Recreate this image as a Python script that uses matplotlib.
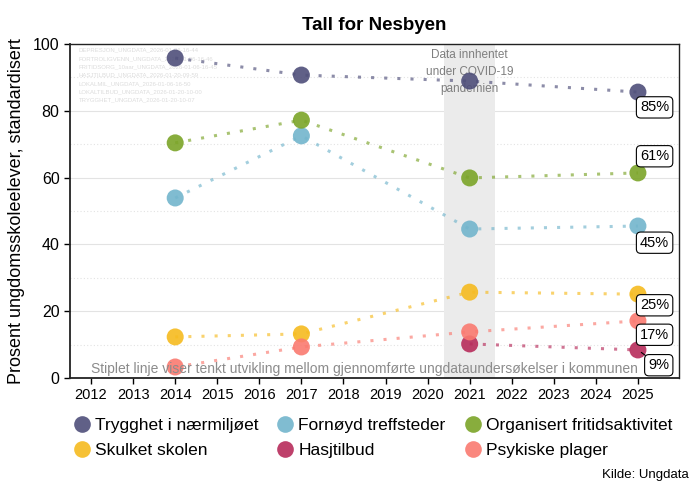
import matplotlib
matplotlib.use("Agg")
import matplotlib.pyplot as plt
from matplotlib.lines import Line2D

plt.rcParams['font.family'] = ['Liberation Sans', 'DejaVu Sans']

# ---- data ----
series_names = ["Trygghet i nærmiljøet", "Fornøyd treffsteder", "Organisert fritidsaktivitet",
                "Skulket skolen", "Hasjtilbud", "Psykiske plager"]
colors = ["#4f4f7a", "#72b5cc", "#7ba428", "#f6bb1f", "#b72c5b", "#fa7a70"]

years_trygghet = [2014, 2017, 2021, 2025]
vals_trygghet = [95.8, 90.7, 88.9, 85.6]
years_fornoyd = [2014, 2017, 2021, 2025]
vals_fornoyd = [53.9, 72.5, 44.6, 45.5]
years_organisert = [2014, 2017, 2021, 2025]
vals_organisert = [70.4, 77.2, 59.9, 61.4]
years_skulket = [2014, 2017, 2021, 2025]
vals_skulket = [12.3, 13.2, 25.7, 25.1]
years_hasj = [2021, 2025]
vals_hasj = [10.2, 8.4]
years_psyk = [2014, 2017, 2021, 2025]
vals_psyk = [3.3, 9.3, 13.8, 17.1]

end_labels = ["85%", "45%", "61%", "25%", "9%", "17%"]

x_ticks = list(range(2012, 2026))
y_ticks = [0, 20, 40, 60, 80, 100]

watermark = ["DEPRESJON_UNGDATA_2026-01-06-16-44",
             "FORTROLIGVENN_UNGDATA_2026-01-06-16-46",
             "FRITIDSORG_10aar_UNGDATA_2026-01-06-16-45",
             "HASJTILBUD_UNGDATA_2026-01-20-09-59",
             "LOKALMIL_UNGDATA_2026-01-06-16-50",
             "LOKALTILBUD_UNGDATA_2026-01-20-10-00",
             "TRYGGHET_UNGDATA_2026-01-20-10-07"]

all_years = [years_trygghet, years_fornoyd, years_organisert, years_skulket, years_hasj, years_psyk]
all_vals = [vals_trygghet, vals_fornoyd, vals_organisert, vals_skulket, vals_hasj, vals_psyk]

# label offsets (points) for end labels
label_offsets = [(12, -11), (12, -12), (12, 12), (12, -8), (15, -11), (12, -10)]

fig = plt.figure(figsize=(6.94, 4.83), dpi=100)
ax = fig.add_axes([0.1009, 0.2174, 0.8771, 0.6915])

ax.set_xlim(2011.5, 2025.97)
ax.set_ylim(0, 100)

# gridlines
for y in range(0, 101, 20):
    ax.axhline(y, color="#e3e3e3", lw=0.8, zorder=0)
for y in range(10, 100, 20):
    ax.axhline(y, color="#e3e3e3", lw=0.8, ls=(0, (1, 2)), zorder=0)

# covid shading
ax.axvspan(2020.4, 2021.6, color="#ebebeb", zorder=1, lw=0)
ax.text(2021, 98.5, "Data innhentet\nunder COVID-19\npandemien", ha="center", va="top",
        fontsize=8.5, color="#7f7f7f", linespacing=1.55, zorder=2)

# watermark
for i, t in enumerate(watermark):
    ax.text(2011.7, 98.2 - i * 2.5, t, fontsize=4.3, color="#dcdcdc", va="center", ha="left", zorder=1)

for name, c, xs, ys, lab, off in zip(series_names, colors, all_years, all_vals, end_labels, label_offsets):
    ax.plot(xs, ys, color=c, lw=2.2, ls=(0, (1, 3.3)), alpha=0.65, zorder=3)
    ax.scatter(xs, ys, s=150, color=c, alpha=0.9, zorder=5, edgecolors="none")
    arrow = dict(arrowstyle="-", color="black", lw=0.8, shrinkA=0, shrinkB=3) if lab == "9%" else None
    ax.annotate(lab, xy=(xs[-1], ys[-1]), xytext=off, textcoords="offset points",
                ha="center", va="center", fontsize=10.5,
                bbox=dict(boxstyle="round,pad=0.25,rounding_size=0.3", fc="white", ec="black", lw=0.8),
                arrowprops=arrow, zorder=6)

ax.text(2012, 2.7, "Stiplet linje viser tenkt utvikling mellom gjennomførte ungdataundersøkelser i kommunen",
        fontsize=10, color="#8c8c8c", ha="left", va="center", zorder=7)

ax.set_xticks(x_ticks)
ax.set_yticks(y_ticks)
ax.tick_params(axis="x", labelsize=10.5, length=4, width=1, colors="black")
ax.tick_params(axis="y", labelsize=11.5, length=4, width=1, colors="black")
for sp in ax.spines.values():
    sp.set_color("#222222")
    sp.set_linewidth(1.0)
ax.spines["left"].set_linewidth(1.3)
ax.spines["bottom"].set_linewidth(1.3)

ax.set_ylabel("Prosent ungdomsskoleelever, standardisert", fontsize=13, labelpad=6)
ax.set_title("Tall for Nesbyen", fontsize=13.5, fontweight="bold", pad=10)

# legend (row-wise order in 3 columns)
handles = [Line2D([], [], marker="o", ls="none", markersize=12, color=c, alpha=0.9, markeredgewidth=0)
           for c in colors]
order = [0, 3, 1, 4, 2, 5]
leg = fig.legend([handles[i] for i in order], [series_names[i] for i in order],
                 loc="center", bbox_to_anchor=(0.535, 0.093), ncol=3, frameon=False,
                 fontsize=12.5, handletextpad=0.1, columnspacing=0.9, labelspacing=0.6,
                 handlelength=1.3)

fig.text(0.992, 0.004, "Kilde: Ungdata", ha="right", va="bottom", fontsize=9.5)

fig.savefig("out.png", dpi=100)
